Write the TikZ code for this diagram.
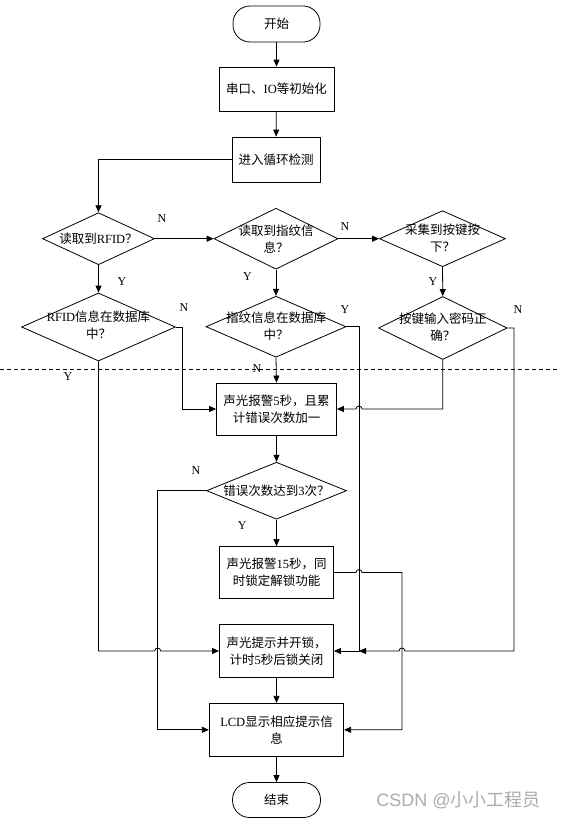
\documentclass[tikz,border=0pt]{standalone}
\usepackage{fontspec}
\setmainfont{Noto Sans CJK SC}
\newfontfamily\lat{Liberation Serif}
\newfontfamily\wmlat{Liberation Sans}
\usetikzlibrary{shapes.geometric,arrows.meta,calc}
\begin{document}
\begin{tikzpicture}[x=1pt,y=-1pt,
  every node/.style={font=\fontsize{12.5}{17}\selectfont},
  ln/.style={line width=0.8pt},
  arr/.style={ln,-{Triangle[length=7pt,width=6pt]}},
  box/.style={draw,ln,inner sep=0pt,align=center},
  term/.style={box,rounded corners=17pt},
  dia/.style={draw,ln,diamond,inner sep=0pt},
  txt/.style={align=center,inner sep=0pt},
  lbl/.style={inner sep=0pt,font=\lat\fontsize{12}{12}\selectfont}]
\useasboundingbox (0,0) rectangle (560,819);

% dashed separator
\draw[line width=0.7pt,dash pattern=on 4pt off 3pt] (0,369) -- (560,369);

% vertical line positions
\coordinate (v3) at (359,0);
\coordinate (v4) at (402,0);
\coordinate (v5) at (514,0);
\coordinate (vN) at (157.7,0);

% nodes
\node[term,minimum width=87pt,minimum height=36pt] (tstart) at (276.5,24) {开始};
\node[box,minimum width=115pt,minimum height=44pt] (b1) at (276.5,89) {串口、{\lat IO}等初始化};
\node[box,minimum width=88pt,minimum height=45pt] (b2) at (276,159.5) {进入循环检测};

\node[dia,minimum width=112pt,minimum height=52pt] (d1) at (98.5,238.7) {};
\node[txt] (d1t) at (d1) {读取到{\lat RFID}？};
\node[dia,minimum width=124pt,minimum height=61pt] (d2) at (276,238.7) {};
\node[txt] (d2t) at (d2) {读取到指纹信\\息？};
\node[dia,minimum width=126pt,minimum height=56pt] (d3) at (442.5,238.7) {};
\node[txt] (d3t) at (d3) {采集到按键按\\下？};

\node[dia,minimum width=154pt,minimum height=68pt] (d4) at (98.5,327) {};
\node[txt] (d4t) at ($(d4)+(0,-1.5)$) {{\lat RFID}信息在数据库\\中？};
\node[dia,minimum width=140pt,minimum height=61pt] (d5) at (276,326.7) {};
\node[txt] (d5t) at ($(d5)+(0,-1)$) {指纹信息在数据库\\中？};
\node[dia,minimum width=128.6pt,minimum height=63pt] (d6) at (442.8,328) {};
\node[txt] (d6t) at ($(d6)+(0,-1)$) {按键输入密码正\\确？};

\node[box,minimum width=120pt,minimum height=52pt] (b3) at (276.5,409) {声光报警{\lat 5}秒，且累\\计错误次数加一};
\node[dia,minimum width=140pt,minimum height=57pt] (d7) at (276.5,490.7) {};
\node[txt] (d7t) at (d7) {错误次数达到{\lat 3}次？};
\node[box,minimum width=114pt,minimum height=52pt] (b5) at (276.5,572.5) {声光报警{\lat 15}秒，同\\时锁定解锁功能};
\node[box,minimum width=114pt,minimum height=53pt] (b4) at (276.5,651) {声光提示并开锁，\\计时{\lat 5}秒后锁关闭};
\node[box,minimum width=134.4pt,minimum height=53pt] (lcd) at (276.5,729.8) {{\lat LCD}显示相应提示信\\息};
\node[term,minimum width=88pt,minimum height=35pt] (tend) at (276.5,800) {结束};

% labels
\node[lbl] (l1) at (162,218.7) {N};
\node[lbl] (l2) at (345,226.7) {N};
\node[lbl] (l3) at (122,281.5) {Y};
\node[lbl] (l4) at (247.5,276.7) {Y};
\node[lbl] (l5) at (433,281.5) {Y};
\node[lbl] (l6) at (184,308) {N};
\node[lbl] (l7) at (345,310) {Y};
\node[lbl] (l8) at (518,310) {N};
\node[lbl] (l9) at (68,377) {Y};
\node[lbl] (l10) at (257,369) {N};
\node[lbl] (l11) at (196,470.7) {N};
\node[lbl] (l12) at (242.3,525.7) {Y};

% connectors
\draw[arr] (tstart) -- (b1);
\draw[arr] (b1) -- (b2);
\draw[arr] (b2.west) -| (d1.north);
\draw[arr] (d1.east) -- (d2.west);
\draw[arr] (d2.east) -- (d3.west);
\draw[arr] (d1.south) -- (d4.north);
\draw[arr] (d2.south) -- (d5.north);
\draw[arr] (d3.south) -- (d6.north);
\draw[arr] (d4.east) -- ++(6,0) |- (b3.west);
\draw[arr] (d5.south) -- (b3.north);
\draw[arr] (d6.south) -- (d6.south |- b3.east) -- ($(v3 |- b3.east)+(3pt,0)$)
  arc[start angle=0,end angle=180,radius=3pt] -- (b3.east);
\draw[arr] (d5.east) -- (v3 |- d5.east) |- (b4.east);
\draw[arr] (d6.east) -- (v5 |- d6.east) -- (v5 |- b4.east) -- ($(v4 |- b4.east)+(3pt,0)$)
  arc[start angle=0,end angle=180,radius=3pt] -- (v3 |- b4.east);
\draw[arr] (d4.south) -- (d4.south |- b4.west) -- ($(vN |- b4.west)+(-3pt,0)$)
  arc[start angle=180,end angle=0,radius=3pt] -- (b4.west);
\draw[arr] (b3.south) -- (d7.north);
\draw[arr] (d7.south) -- (b5.north);
\draw[arr] (d7.west) -- (vN |- d7.west) |- (lcd.west);
\draw[arr] (b5.east) -- ($(v3 |- b5.east)+(-3pt,0)$)
  arc[start angle=180,end angle=0,radius=3pt] -- (v4 |- b5.east) |- (lcd.east);
\draw[arr] (b4) -- (lcd);
\draw[arr] (lcd) -- (tend);

% watermark
\node[text=black!33,font=\fontsize{18}{18}\selectfont,inner sep=0pt] (wm) at (458.5,800) {{\wmlat CSDN @}小小工程员};
\end{tikzpicture}
\end{document}
